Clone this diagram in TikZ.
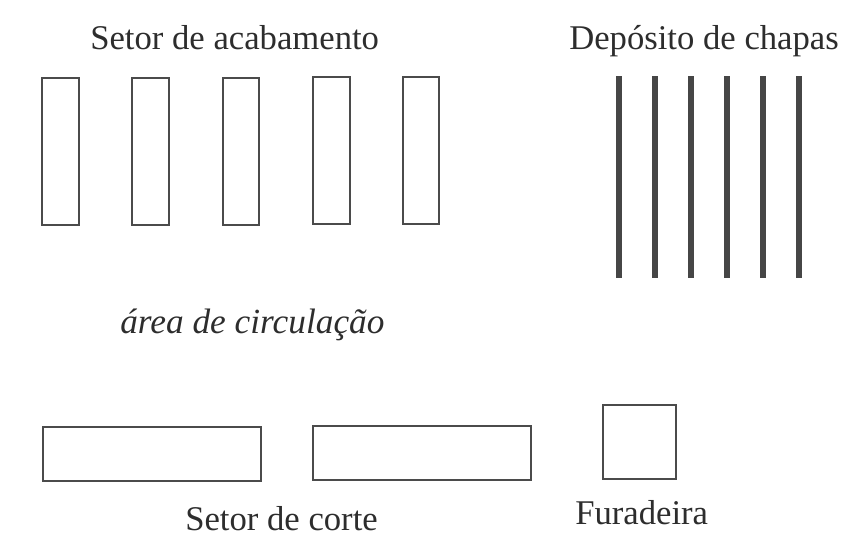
\documentclass[tikz,border=0pt]{standalone}
\usepackage{fontspec}
\setmainfont{Liberation Serif}
\definecolor{inkgray}{RGB}{75,75,75}
\definecolor{bargray}{RGB}{70,70,70}
\definecolor{txtgray}{RGB}{45,45,45}
\tikzset{
  machine/.style={draw=inkgray, line width=1.9pt},
  sheet/.style={draw=bargray, line width=4.2pt},
  lbl/.style={anchor=base west, inner sep=0pt, text=txtgray, font=\fontsize{26}{31}\selectfont},
}
\begin{document}
\begin{tikzpicture}[x=0.75pt,y=0.75pt,yscale=-1,xscale=1]
	\useasboundingbox (0,0) rectangle (849,537);

	%Shape: Rectangle - acabamento 1
	\draw [machine] (42,78) rectangle (79,225) ;
	%Shape: Rectangle - acabamento 2
	\draw [machine] (132,78) rectangle (169,225) ;
	%Shape: Rectangle - acabamento 3
	\draw [machine] (223,78) rectangle (259,225) ;
	%Shape: Rectangle - acabamento 4
	\draw [machine] (313,77) rectangle (350,224) ;
	%Shape: Rectangle - acabamento 5
	\draw [machine] (403,77) rectangle (439,224) ;

	%Straight Lines - chapas
	\draw [sheet] (619,76) -- (619,278) ;
	\draw [sheet] (655,76) -- (655,278) ;
	\draw [sheet] (691,76) -- (691,278) ;
	\draw [sheet] (727,76) -- (727,278) ;
	\draw [sheet] (763,76) -- (763,278) ;
	\draw [sheet] (799,76) -- (799,278) ;

	%Shape: Rectangle - corte 1
	\draw [machine] (43,427) rectangle (261,481) ;
	%Shape: Rectangle - corte 2
	\draw [machine] (313,426) rectangle (531,480) ;
	%Shape: Square - furadeira
	\draw [machine] (603,405) rectangle (676,479) ;

	% Text Node
	\node [lbl] (acabamento) at (90,49) {Setor de acabamento};
	% Text Node
	\node [lbl] (deposito) at (569,49) {Depósito de chapas};
	% Text Node
	\node [lbl, font=\fontsize{26.5}{31}\selectfont\itshape] (circulacao) at (120,333) {área de circulação};
	% Text Node
	\node [lbl] (corte) at (185,530) {Setor de corte};
	% Text Node
	\node [lbl] (furadeira) at (575,524) {Furadeira};

\end{tikzpicture}
\end{document}
